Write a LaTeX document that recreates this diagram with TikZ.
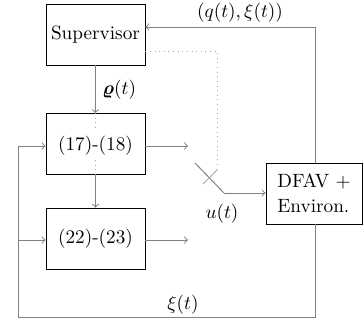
\documentclass[tikz,border=0pt]{standalone}
\usepackage{amsmath}
\usepackage{amssymb}
\usepackage{amsbsy}
\usepackage[dvipsnames]{xcolor}
\usetikzlibrary{arrows}

\tikzset{
  blockbox/.style={draw=black, fill=white, minimum width=51.5pt, minimum height=31.7pt, inner sep=0pt},
  sigline/.style={draw=gray, line width=0.5pt},
  dotline/.style={draw=gray!70, dotted, line width=0.4pt}
}

\begin{document}
\begin{tikzpicture}[x=0.52pt, y=-0.52pt]
\useasboundingbox (0,0) rectangle (363,324);
% edit here for the blocks
\node[blockbox] (sup) at (95.5,34.5) {Supervisor};
\node[blockbox] (blkA) at (95.5,144) {};
\node[blockbox] (blkB) at (95.5,238.5) {(22)-(23)};
\node[blockbox, minimum width=50pt, align=left] (plant) at (314,193.5) {DFAV +\\[1pt]Environ.};
% dotted line through the first block
\draw[dotline] (blkA.north) -- ++(0,16);
\draw[dotline] (blkA.south) -- ++(0,-16);
\node[inner sep=1pt] (blkAtext) at (95.5,146) {(17)-(18)};
% switch
\coordinate (swtop) at (195,163);
\coordinate (swbot) at (224,193);
\coordinate (outA) at (188,146);
\coordinate (outB) at (188,240);
\coordinate (ctrlA) at (217,51);
\coordinate (ctrlB) at (217,170);
\coordinate (tickB) at (203,184);
\coordinate (fbtop) at (315,27);
\coordinate (fbbotR) at (315,317);
\coordinate (fbbotL) at (18,317);
\coordinate (fbA) at (18,146);
\coordinate (fbB) at (18,240);
\draw[sigline,->] (sup) -- (blkA) node[midway, right, black] {$\boldsymbol{\varrho}(t)$};
\draw[sigline,->] (blkA) -- (blkB);
\draw[sigline,->] (blkA.east |- outA) -- (outA);
\draw[sigline,->] (blkB.east |- outB) -- (outB);
\draw[sigline] (swtop) -- (swbot);
\draw[sigline,->] (swbot) -- (plant.west |- swbot);
\node[black] (ulabel) at (222,214) {$u(t)$};
% switching signal
\draw[dotline] (sup.east |- ctrlA) -- (ctrlA) -- (ctrlB);
\draw[draw=gray!70, line width=0.4pt] (ctrlB) -- (tickB);
% feedback to the supervisor
\draw[sigline,->] (plant.north -| fbtop) -- (fbtop) -- (sup.east |- fbtop);
\node (qlabel) at (240,13) {$(q(t),\xi(t))$};
% feedback to the blocks
\draw[sigline,->] (plant.south -| fbbotR) -- (fbbotR) -- (fbbotL) -- (fbA) -- (blkA.west |- fbA);
\draw[sigline,->] (fbB) -- (blkB.west |- fbB);
\node (xilabel) at (183,305) {$\xi(t)$};

\end{tikzpicture}
\end{document}
